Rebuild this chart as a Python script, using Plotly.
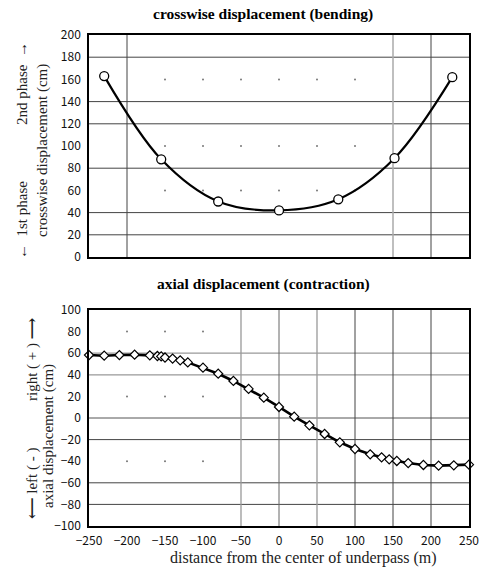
import plotly.graph_objects as go

# ---- data ----
top_x = [-230, -155, -80, 0, 78, 152, 228]
top_y = [163, 88, 50, 42, 52, 89, 162]

bot_x = [-250, -230, -210, -190, -170, -160, -155, -150, -140, -130, -120, -100,
         -80, -60, -40, -20, 0, 20, 40, 60, 80, 100, 120, 135, 145, 155, 170,
         190, 210, 230, 250]
bot_y = [58.3, 57.7, 58.3, 58.6, 58.0, 57.4, 57.0, 56.0, 55.0, 53.4, 51.5, 46.6,
         41.0, 34.3, 26.9, 18.8, 10.2, 1.2, -6.8, -14.8, -22.5, -28.7, -33.6, -36.4,
         -38.3, -39.8, -41.7, -43.5, -44.1, -43.8, -43.2]

top_title = "crosswise displacement (bending)"
bot_title = "axial displacement (contraction)"
x_title = "distance from the center of underpass (m)"

# grid lines that are drawn (the rest appear only as dots in the original)
top_hlines = [(20, "#444"), (40, "#444"), (80, "#444"), (120, "#444"), (140, "#444"), (180, "#444")]
top_vlines = [(-200, "#444"), (150, "#aaa"), (200, "#444")]
top_dot_rows = [160, 100, 60]
top_dot_cols = [-150, -100, -50, 0, 50, 100]

bot_hlines = [(60, "#999"), (40, "#999"), (0, "#555"), (-20, "#444"), (-60, "#444"), (-80, "#444")]
bot_vlines = [(-50, "#999"), (0, "#666"), (50, "#999"), (100, "#444"), (150, "#444"), (200, "#444")]
bot_dot_rows = [80, 20, -40]
bot_dot_cols = [-200, -150, -100]

W, H = 487, 567
def px_x(a, b):
    return [a / W, b / W]
def px_y(top, bottom):
    return [(H - bottom) / H, (H - top) / H]

fig = go.Figure()

tickfont = dict(family="Noto Sans CJK JP, Liberation Sans, sans-serif", size=12, color="#111")
serif = "Liberation Serif, DejaVu Serif, serif"

# dots
dx, dy = [], []
for r in top_dot_rows:
    for c in top_dot_cols:
        dx.append(c); dy.append(r)
fig.add_trace(go.Scatter(x=dx, y=dy, mode="markers", marker=dict(size=2, color="#777"),
                         xaxis="x", yaxis="y", hoverinfo="skip", showlegend=False))
dx, dy = [], []
for r in bot_dot_rows:
    for c in bot_dot_cols:
        dx.append(c); dy.append(r)
fig.add_trace(go.Scatter(x=dx, y=dy, mode="markers", marker=dict(size=2, color="#777"),
                         xaxis="x2", yaxis="y2", hoverinfo="skip", showlegend=False))

# data
fig.add_trace(go.Scatter(x=top_x, y=top_y, mode="lines+markers",
                         line=dict(color="black", width=2.2, shape="spline", smoothing=1.0),
                         marker=dict(symbol="circle", size=9, color="white",
                                     line=dict(color="black", width=1.3)),
                         xaxis="x", yaxis="y", showlegend=False, cliponaxis=False))
fig.add_trace(go.Scatter(x=bot_x, y=bot_y, mode="lines+markers",
                         line=dict(color="black", width=2.6),
                         marker=dict(symbol="diamond", size=7, color="white",
                                     line=dict(color="black", width=1.2)),
                         xaxis="x2", yaxis="y2", showlegend=False, cliponaxis=False))

shapes = []
for v, c in top_hlines:
    shapes.append(dict(type="line", xref="x", yref="y", x0=-250, x1=250, y0=v, y1=v,
                       line=dict(color=c, width=1), layer="below"))
for v, c in top_vlines:
    shapes.append(dict(type="line", xref="x", yref="y", x0=v, x1=v, y0=0, y1=200,
                       line=dict(color=c, width=1.5 if c == "#aaa" else 1), layer="below"))
for v, c in bot_hlines:
    shapes.append(dict(type="line", xref="x2", yref="y2", x0=-250, x1=250, y0=v, y1=v,
                       line=dict(color=c, width=1.3 if c == "#999" else 1), layer="below"))
for v, c in bot_vlines:
    shapes.append(dict(type="line", xref="x2", yref="y2", x0=v, x1=v, y0=-100, y1=100,
                       line=dict(color=c, width=1.3 if c == "#999" else 1), layer="below"))

axis_common = dict(showgrid=False, zeroline=False, showline=True, mirror=True,
                   linecolor="black", linewidth=1.5, ticks="", tickfont=tickfont, automargin=False)

ytf = dict(family=serif, size=15, color="#222")
xtf = dict(family=serif, size=16, color="#222")

def ann(text, xp, yp, font, angle=0):
    return dict(text=text, x=xp / W, y=1 - yp / H, xref="paper", yref="paper",
                xanchor="center", yanchor="middle", textangle=angle,
                showarrow=False, font=font)

annotations = [
    ann("<b>" + top_title + "</b>", 263, 14, dict(family=serif, size=15.5, color="black")),
    ann("<b>" + bot_title + "</b>", 263, 284, dict(family=serif, size=15.5, color="black")),
    ann(x_title, 303, 558, xtf),
    # top y title
    ann("←  1st phase", 22, 220, ytf, -90),
    ann("2nd phase  →", 22, 84, ytf, -90),
    ann("crosswise displacement (cm)", 42, 151, ytf, -90),
    # bottom y title
    ann("<b>⟵</b> left ( - )", 32, 483, ytf, -90),
    ann("right ( + ) <b>⟶</b>", 32, 360, ytf, -90),
    ann("axial displacement (cm)", 48, 436, ytf, -90),
]

fig.update_layout(
    width=W, height=H,
    margin=dict(l=0, r=0, t=0, b=0, pad=0, autoexpand=False),
    paper_bgcolor="white", plot_bgcolor="white",
    showlegend=False,
    xaxis=dict(domain=px_x(89, 469), range=[-250, 250], showticklabels=False, anchor="y", **axis_common),
    yaxis=dict(domain=px_y(35, 257), range=[0, 200], dtick=20, tick0=0, anchor="x",
               ticklabelstandoff=4, **axis_common),
    xaxis2=dict(domain=px_x(89, 469), range=[-250, 250], dtick=50, tick0=-250, anchor="y2",
                ticklabelstandoff=3, **axis_common),
    yaxis2=dict(domain=px_y(310, 526), range=[-100, 100], dtick=20, tick0=-100, anchor="x2",
                ticklabelstandoff=4, **axis_common),
    shapes=shapes,
    annotations=annotations,
)

fig.write_html("out.html")
